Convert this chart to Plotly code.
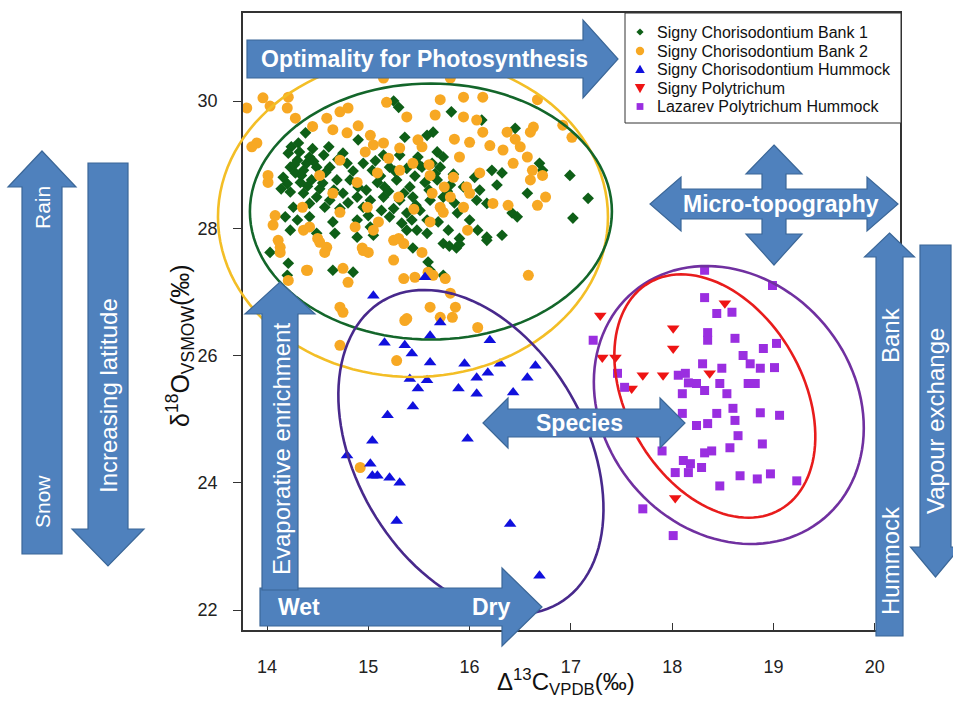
import math
import plotly.graph_objects as go

# ---------------- data ----------------
bank1_x = [15.25, 15.30, 15.82, 16.12, 14.38, 14.90, 15.64, 15.58, 16.45, 15.36, 14.61, 14.24, 14.31, 14.21, 14.42,
           14.75, 15.15, 15.31, 15.49, 15.68, 15.74, 14.30, 14.39, 14.49, 14.23, 14.28, 14.36, 14.62, 14.79, 14.95,
           15.04, 15.21, 15.38, 15.53, 15.63, 15.71, 14.16, 14.33, 14.44, 14.55, 14.69, 14.82, 14.90, 15.09, 15.16,
           15.28, 15.41, 15.56, 15.68, 15.81, 15.94, 16.22, 16.32, 16.69, 16.72, 16.99, 17.17, 17.02, 16.57, 16.42,
           16.47, 16.32, 16.17, 16.08, 16.00, 16.17, 16.27, 16.07, 14.23, 14.36, 14.49, 14.62, 14.75, 14.89, 15.02,
           15.15, 15.31, 15.44, 15.61, 15.74, 14.26, 14.42, 14.57, 14.72, 14.95, 15.13, 15.25, 15.38, 15.51, 15.88,
           14.18, 14.30, 14.42, 14.65, 14.89, 15.02, 15.21, 15.33, 15.43, 15.58, 15.69, 15.48, 14.23, 14.49, 14.67,
           14.89, 15.05, 15.38, 15.58, 15.74, 15.79, 15.90, 15.87, 14.03, 14.21, 14.65, 14.85, 15.44, 15.59, 15.61,
           15.74, 14.20, 15.80, 15.90, 16.17, 14.27, 14.34, 14.46, 14.52, 14.58, 14.66, 14.70, 14.85, 14.98, 15.07,
           15.12, 15.20, 15.26, 15.35, 15.46, 15.50, 15.60, 15.66, 15.78, 15.84, 14.40, 14.56, 14.80, 15.00, 15.47,
           15.85, 14.32, 14.45, 14.20, 14.14, 16.05, 16.10]
bank1_y = [30.00, 29.90, 29.83, 29.70, 29.50, 29.39, 29.51, 29.46, 29.57, 29.43, 29.28, 29.28, 29.34, 29.18, 29.12,
           29.18, 29.15, 29.15, 29.12, 29.20, 29.12, 29.07, 29.02, 28.96, 28.96, 28.87, 28.91, 28.96, 29.02, 29.02,
           28.91, 28.96, 28.94, 28.96, 29.02, 28.96, 28.80, 28.72, 28.76, 28.71, 28.76, 28.76, 28.65, 28.72, 28.65,
           28.76, 28.65, 28.72, 28.76, 28.68, 28.65, 28.91, 28.87, 29.02, 28.91, 28.83, 28.47, 28.16, 28.55, 28.24,
           28.18, 27.89, 27.86, 27.97, 28.13, 28.39, 28.68, 28.44, 28.57, 28.55, 28.49, 28.44, 28.55, 28.49, 28.44,
           28.49, 28.44, 28.49, 28.44, 28.49, 28.33, 28.39, 28.33, 28.31, 28.33, 28.28, 28.31, 28.24, 28.28, 28.24,
           28.18, 28.13, 28.18, 28.10, 28.13, 28.02, 28.18, 28.08, 28.13, 28.13, 28.10, 27.97, 27.97, 27.92, 27.92,
           27.86, 27.89, 27.97, 27.92, 27.76, 27.97, 27.84, 27.69, 27.62, 27.45, 27.34, 27.31, 27.69, 27.47, 27.34,
           27.26, 27.26, 27.72, 27.75, 27.81, 29.00, 28.83, 29.05, 28.62, 28.88, 28.60, 29.08, 28.90, 28.60, 29.06,
           28.82, 28.58, 28.90, 28.55, 28.82, 29.00, 28.60, 28.86, 28.58, 28.85, 28.66, 29.15, 28.40, 28.20, 28.36,
           28.40, 29.20, 29.25, 28.70, 28.62, 28.80, 28.60]

bank2_x = [13.96, 14.03, 14.21, 14.20, 13.80, 14.72, 14.80, 14.59, 14.28, 14.90, 14.79, 15.02, 15.18, 15.38, 15.66,
           15.71, 15.94, 16.13, 15.94, 16.07, 16.13, 16.37, 16.63, 16.60, 16.67, 16.92, 17.01, 13.85, 13.90, 14.01,
           14.01, 15.05, 15.15, 15.31, 15.49, 15.53, 15.90, 16.33, 16.50, 16.57, 16.43, 16.62, 16.72, 16.60, 16.75,
           16.67, 14.72, 14.52, 14.89, 15.09, 15.31, 15.44, 15.61, 15.84, 15.97, 16.10, 16.23, 16.38, 16.00, 15.81,
           15.71, 15.74, 15.94, 15.63, 15.30, 14.99, 14.72, 14.35, 14.08, 14.11, 14.13, 14.36, 14.50, 14.59, 14.42,
           14.87, 14.94, 15.00, 15.05, 15.25, 15.35, 15.30, 15.53, 15.61, 15.25, 15.35, 15.46, 15.64, 15.76, 15.81,
           14.40, 14.80, 14.72, 16.58, 15.15, 15.81, 14.75, 15.36, 15.61, 15.71, 15.86, 15.83, 16.08, 14.72, 15.28,
           14.92, 14.06, 14.13, 14.39, 14.21, 14.75, 15.59, 15.38, 14.95, 14.57, 14.52, 15.98, 15.20, 15.60, 15.75,
           14.65, 15.45, 15.10, 16.20, 16.45, 14.97, 15.85, 16.00, 14.45, 14.65]
bank2_y = [30.05, 29.92, 30.06, 29.89, 29.89, 29.83, 29.89, 29.73, 29.73, 29.61, 29.50, 29.46, 29.98, 29.75, 29.78,
           30.02, 30.06, 30.06, 29.75, 29.70, 29.51, 29.51, 29.59, 29.51, 30.02, 29.62, 29.43, 29.28, 29.34, 28.72,
           28.83, 29.31, 29.34, 29.26, 29.39, 29.28, 29.12, 29.23, 29.28, 29.12, 29.02, 28.91, 28.83, 28.76, 28.49,
           28.36, 29.07, 28.83, 28.72, 28.87, 28.91, 29.02, 28.83, 28.80, 28.65, 28.87, 28.39, 28.36, 28.55, 28.49,
           28.33, 28.25, 28.33, 28.55, 28.49, 28.33, 28.25, 28.33, 28.20, 27.81, 27.70, 27.97, 27.84, 27.70, 28.02,
           28.02, 27.69, 27.62, 27.97, 27.81, 27.76, 27.84, 27.62, 28.10, 27.50, 27.21, 27.23, 27.26, 27.21, 26.98,
           27.34, 27.15, 26.76, 27.26, 30.36, 30.36, 26.68, 26.55, 26.76, 26.60, 26.76, 26.60, 26.44, 26.16, 25.92,
           24.24, 28.05, 27.62, 27.34, 27.18, 27.37, 27.31, 26.58, 27.65, 27.62, 27.78, 27.97, 29.10, 29.00, 28.65,
           28.55, 28.30, 28.10, 29.30, 29.40, 29.20, 29.40, 29.35, 29.60, 29.55]

hummock_x = [15.05, 15.71, 15.61, 15.16, 15.36, 15.43, 15.61, 15.95, 16.20, 16.30, 16.65, 16.57, 16.18, 16.07, 15.41,
             15.58, 15.49, 15.89, 16.07, 16.43, 15.44, 15.19, 15.98, 15.04, 14.79, 15.02, 15.04, 15.09, 15.21, 15.31,
             15.28, 16.40, 16.69, 15.56]
hummock_y = [26.94, 26.52, 26.31, 26.20, 26.16, 26.03, 25.89, 25.87, 26.24, 25.87, 25.84, 25.65, 25.73, 25.65, 25.63,
             25.61, 25.48, 25.48, 25.40, 25.42, 25.20, 25.06, 24.69, 24.66, 24.43, 24.30, 24.11, 24.11, 24.08, 24.00,
             23.40, 23.35, 22.54, 27.23]

polytrichum_x = [17.29, 18.52, 18.01, 18.01, 17.31, 17.44, 17.71, 17.91, 17.60, 18.37, 18.03]
polytrichum_y = [26.63, 26.82, 26.43, 26.11, 25.97, 25.97, 25.69, 25.69, 25.48, 25.72, 23.76]

lazarev_x = [18.32, 18.99, 18.32, 18.44, 18.59, 18.35, 18.35, 18.62, 17.22, 18.90, 19.03, 18.70, 18.77, 18.87, 19.01,
             18.30, 18.49, 17.46, 18.06, 18.13, 18.16, 18.24, 18.47, 18.75, 18.82, 17.53, 18.10, 18.32, 18.54, 18.10,
             18.44, 18.60, 18.62, 18.87, 19.06, 18.24, 18.35, 18.65, 17.90, 18.32, 18.39, 18.57, 18.89, 18.11, 18.18,
             18.29, 18.03, 18.16, 18.67, 18.84, 18.97, 18.47, 19.23, 17.71, 18.01]
lazarev_y = [27.34, 27.10, 26.91, 26.66, 26.68, 26.36, 26.24, 26.27, 26.24, 26.11, 26.19, 26.00, 25.87, 25.80, 25.81,
             25.87, 25.80, 25.72, 25.69, 25.72, 25.57, 25.56, 25.56, 25.56, 25.56, 25.50, 25.40, 25.45, 25.40, 25.09,
             25.09, 25.17, 24.98, 25.10, 25.06, 24.90, 24.93, 24.74, 24.50, 24.47, 24.50, 24.55, 24.61, 24.35, 24.30,
             24.24, 24.16, 24.16, 24.11, 24.06, 24.14, 23.95, 24.03, 23.59, 23.17]

series_names = ["Signy Chorisodontium Bank 1", "Signy Chorisodontium Bank 2",
                "Signy Chorisodontium Hummock", "Signy Polytrichum", "Lazarev Polytrichum Hummock"]
x_ticks = [14, 15, 16, 17, 18, 19, 20]
y_ticks = [22, 24, 26, 28, 30]

# confidence ellipses: centre in data units
ellipse_cx = [15.441, 15.618, 16.013, 18.559, 18.421]
ellipse_cy = [28.177, 28.263, 24.483, 25.222, 25.363]

# ---------------- layout geometry & styles ----------------
W, H = 953, 704
ML, MR, MT, MB = 243, 53, 13, 74
PW, PH = W - ML - MR, H - MT - MB
X_RANGE = [13.763, 20.249]
Y_RANGE = [21.686, 31.383]
FONT = "Liberation Sans, Arial, sans-serif"
ARROW_FILL = "#4F81BD"
ARROW_LINE = "#3B6798"

ell_a = [195, 181, 175, 148, 131]
ell_b = [160, 128, 115, 125, 88]
ell_ang = [0, 0, 60, 50, 60]
ell_col = ["#F3BE26", "#13662A", "#48298C", "#7030A0", "#E81C1C"]

marker_styles = [
    dict(symbol="diamond", color="#0E5F17", size=9),
    dict(symbol="circle", color="#F7A823", size=11),
    dict(symbol="triangle-up", color="#1010DD", size=11),
    dict(symbol="triangle-down", color="#EE1414", size=11),
    dict(symbol="square", color="#9A2EE0", size=9),
]


def px(X):
    return (X - ML) / PW


def py(Y):
    return (H - MB - Y) / PH


def path_from_pixels(pts):
    return "M " + " L ".join(f"{px(X):.5f},{py(Y):.5f}" for X, Y in pts) + " Z"


def data_to_pixel(x, y):
    X = ML + (x - X_RANGE[0]) / (X_RANGE[1] - X_RANGE[0]) * PW
    Y = MT + (Y_RANGE[1] - y) / (Y_RANGE[1] - Y_RANGE[0]) * PH
    return X, Y


shapes = []

# ellipses
for cx, cy, a, b, ang, col in zip(ellipse_cx, ellipse_cy, ell_a, ell_b, ell_ang, ell_col):
    Xc, Yc = data_to_pixel(cx, cy)
    th = math.radians(ang)
    pts = []
    for i in range(120):
        t = 2 * math.pi * i / 120
        dx = a * math.cos(t) * math.cos(th) - b * math.sin(t) * math.sin(th)
        dy = a * math.cos(t) * math.sin(th) + b * math.sin(t) * math.cos(th)
        pts.append((Xc + dx, Yc + dy))
    shapes.append(dict(type="path", xref="paper", yref="paper", path=path_from_pixels(pts),
                       line=dict(color=col, width=2.6), fillcolor="rgba(0,0,0,0)", layer="above"))


def add_arrow(pts):
    shapes.append(dict(type="path", xref="paper", yref="paper", path=path_from_pixels(pts),
                       fillcolor=ARROW_FILL, line=dict(color=ARROW_LINE, width=1.2), layer="above"))


def right_arrow(x0, xb, xt, yc, bh, hh):
    return [(x0, yc - bh), (xb, yc - bh), (xb, yc - hh), (xt, yc), (xb, yc + hh), (xb, yc + bh), (x0, yc + bh)]


def up_arrow(xc, yt, yb, y0, bw, hw):
    return [(xc, yt), (xc + hw, yb), (xc + bw, yb), (xc + bw, y0), (xc - bw, y0), (xc - bw, yb), (xc - hw, yb)]


def down_arrow(xc, y0, yb, yt, bw, hw):
    return [(xc - bw, y0), (xc + bw, y0), (xc + bw, yb), (xc + hw, yb), (xc, yt), (xc - hw, yb), (xc - bw, yb)]


def double_h_arrow(xtl, xbl, xbr, xtr, yc, bh, hh):
    return [(xtl, yc), (xbl, yc - hh), (xbl, yc - bh), (xbr, yc - bh), (xbr, yc - hh), (xtr, yc),
            (xbr, yc + hh), (xbr, yc + bh), (xbl, yc + bh), (xbl, yc + hh)]


def cross_arrow(cx, cy, xl, xhl, xhr, xr, yt, yht, yhb, yb, bhh, hhh, bwv, hwv):
    return [(cx, yt), (cx + hwv, yht), (cx + bwv, yht), (cx + bwv, cy - bhh), (xhr, cy - bhh), (xhr, cy - hhh),
            (xr, cy), (xhr, cy + hhh), (xhr, cy + bhh), (cx + bwv, cy + bhh), (cx + bwv, yhb), (cx + hwv, yhb),
            (cx, yb), (cx - hwv, yhb), (cx - bwv, yhb), (cx - bwv, cy + bhh), (xhl, cy + bhh), (xhl, cy + hhh),
            (xl, cy), (xhl, cy - hhh), (xhl, cy - bhh), (cx - bwv, cy - bhh), (cx - bwv, yht), (cx - hwv, yht)]


add_arrow(right_arrow(247, 583, 618, 59, 19, 39))                      # Optimality
add_arrow(cross_arrow(774, 204, 650, 681, 867, 898, 145, 174, 234, 265, 15, 27, 12, 28))  # Micro-topography
add_arrow(double_h_arrow(483, 508, 660, 685, 423, 14, 25))              # Species
add_arrow(right_arrow(260, 502, 542, 607, 19, 39))                      # Wet / Dry
add_arrow(up_arrow(280, 282, 314, 590, 18, 35))                         # Evaporative enrichment
add_arrow(up_arrow(889.5, 233, 257, 636, 13.5, 25))                     # Bank / Hummock
add_arrow(down_arrow(935.5, 245, 547, 577, 15.5, 25))                   # Vapour exchange
add_arrow(up_arrow(42, 151, 187, 554, 20, 34))                          # Rain / Snow
add_arrow(down_arrow(108, 163, 529, 566, 20, 36))                       # Increasing latitude

# ---------------- legend box (drawn by hand to match row spacing) ----------------
LEG_X0, LEG_X1, LEG_Y0, LEG_Y1 = 625, 901, 13, 123
leg_rows = [32, 51, 69.5, 88, 106.5]
leg_sym_x = 640
shapes.append(dict(type="rect", xref="paper", yref="paper", x0=px(LEG_X0), x1=px(LEG_X1),
                   y0=py(LEG_Y1), y1=py(LEG_Y0), fillcolor="white", line=dict(color="#333", width=1),
                   layer="above"))


def legend_symbol(kind, X, Y, color):
    if kind == "circle":
        r = 4.2
        shapes.append(dict(type="circle", xref="paper", yref="paper", x0=px(X - r), x1=px(X + r),
                           y0=py(Y + r), y1=py(Y - r), fillcolor=color, line=dict(width=0), layer="above"))
        return
    if kind == "diamond":
        s = 3.6
        pts = [(X, Y - s), (X + s, Y), (X, Y + s), (X - s, Y)]
    elif kind == "triangle-up":
        s = 4.8
        pts = [(X, Y - s), (X + s, Y + s * 0.75), (X - s, Y + s * 0.75)]
    elif kind == "triangle-down":
        s = 5.2
        pts = [(X - s, Y - s * 0.75), (X + s, Y - s * 0.75), (X, Y + s)]
    else:
        s = 3.4
        pts = [(X - s, Y - s), (X + s, Y - s), (X + s, Y + s), (X - s, Y + s)]
    shapes.append(dict(type="path", xref="paper", yref="paper", path=path_from_pixels(pts),
                       fillcolor=color, line=dict(width=0), layer="above"))


annotations = []

for name, ms, Y in zip(series_names, marker_styles, leg_rows):
    legend_symbol(ms["symbol"], leg_sym_x, Y, ms["color"])
    annotations.append(dict(text=name, x=px(655), y=py(Y), xref="paper", yref="paper", xanchor="left",
                            yanchor="middle", showarrow=False,
                            font=dict(family=FONT, size=16, color="#111")))


def label(text, X, Y, size, angle=0, bold=True, color="white"):
    annotations.append(dict(text=f"<b>{text}</b>" if bold else text, x=px(X), y=py(Y), xref="paper", yref="paper",
                            xanchor="center", yanchor="middle", showarrow=False, textangle=angle,
                            font=dict(family=FONT, size=size, color=color)))


label("Optimality for Photosynthesis", 424, 59, 23)
label("Micro-topography", 781, 204, 23)
label("Species", 579, 423, 23)
label("Wet", 299, 607, 23)
label("Dry", 491, 607, 23)
label("Evaporative enrichment", 281, 449, 24, angle=-90, bold=False)
label("Bank", 890, 335, 24, angle=-90, bold=False)
label("Hummock", 890, 561, 24, angle=-90, bold=False)
label("Vapour exchange", 936, 421, 24, angle=-90, bold=False)
label("Rain", 42, 208, 21, angle=-90, bold=False)
label("Snow", 42, 502, 21, angle=-90, bold=False)
label("Increasing latitude", 109, 396, 24, angle=-90, bold=False)

# axis titles
label("δ<sup>18</sup>O<sub>VSMOW</sub>(‰)", 180, 346, 25, angle=-90, bold=False, color="#111")
label("Δ<sup>13</sup>C<sub>VPDB</sub>(‰)", 566, 682, 24, bold=False, color="#111")

fig = go.Figure()

series_x = [bank1_x, bank2_x, hummock_x, polytrichum_x, lazarev_x]
series_y = [bank1_y, bank2_y, hummock_y, polytrichum_y, lazarev_y]

for name, xs, ys, ms in zip(series_names, series_x, series_y, marker_styles):
    fig.add_trace(go.Scatter(x=xs, y=ys, mode="markers", name=name, showlegend=False,
                             marker=dict(symbol=ms["symbol"], color=ms["color"], size=ms["size"],
                                         line=dict(width=0))))

axis_common = dict(showgrid=False, zeroline=False, showline=True, linecolor="#333", linewidth=1.5,
                   mirror=True, tickcolor="#333", tickwidth=1.2,
                   tickfont=dict(family=FONT, size=18, color="#222"))

fig.update_layout(
    width=W, height=H,
    margin=dict(l=ML, r=MR, t=MT, b=MB),
    paper_bgcolor="white", plot_bgcolor="white",
    showlegend=False,
    xaxis=dict(range=X_RANGE, tickvals=x_ticks, ticktext=[str(v) for v in x_ticks], ticks="inside",
               ticklen=7, ticklabelstandoff=20, **axis_common),
    yaxis=dict(range=Y_RANGE, tickvals=y_ticks, ticktext=[str(v) for v in y_ticks], ticks="outside",
               ticklen=8, ticklabelstandoff=12, **axis_common),
    shapes=shapes,
    annotations=annotations,
)

fig.write_html("out.html")
